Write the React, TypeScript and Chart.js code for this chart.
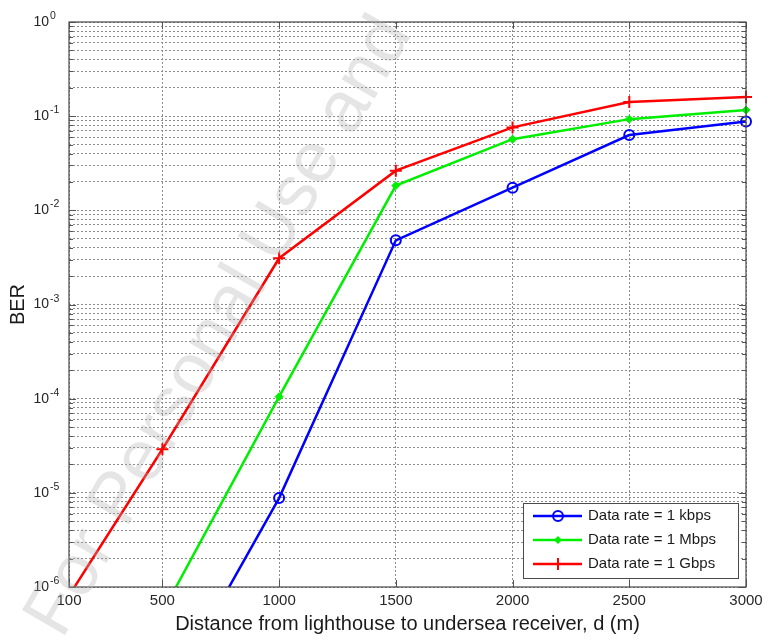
import React, { useEffect, useRef } from "react";
import { Chart, registerables } from "chart.js";

Chart.register(...registerables);

// ---- data ----
const distances = [100, 500, 1000, 1500, 2000, 2500, 3000];
const berKbps = [null, 5.5e-8, 8.8e-6, 4.8e-3, 1.74e-2, 6.3e-2, 8.8e-2];
const berMbps = [null, 5.4e-7, 1.05e-4, 1.83e-2, 5.7e-2, 9.3e-2, 1.16e-1];
const berGbps = [8.1e-7, 2.9e-5, 3.1e-3, 2.64e-2, 7.6e-2, 1.41e-1, 1.6e-1];
const seriesLabels = ["Data rate = 1 kbps", "Data rate = 1 Mbps", "Data rate = 1 Gbps"];
const seriesColors = ["#0000ff", "#00ee00", "#ff0000"];
const xTickValues = [100, 500, 1000, 1500, 2000, 2500, 3000];
const yExponents = [-6, -5, -4, -3, -2, -1, 0];
const xTitle = "Distance from lighthouse to undersea receiver, d (m)";
const yTitle = "BER";
const watermark = "For Personal Use and";

const FONT = "'Liberation Sans', Arial, Helvetica, sans-serif";

function toPoints(vals: (number | null)[]) {
  return distances.map((d, i) => ({ x: d, y: vals[i] }));
}

function drawMarker(ctx: CanvasRenderingContext2D, kind: number, x: number, y: number, color: string) {
  ctx.save();
  ctx.strokeStyle = color;
  ctx.fillStyle = color;
  ctx.lineWidth = 2;
  if (kind === 0) {
    ctx.beginPath();
    ctx.arc(x, y, 5, 0, Math.PI * 2);
    ctx.stroke();
  } else if (kind === 1) {
    ctx.beginPath();
    ctx.moveTo(x, y - 4);
    ctx.lineTo(x + 4, y);
    ctx.lineTo(x, y + 4);
    ctx.lineTo(x - 4, y);
    ctx.closePath();
    ctx.fill();
  } else {
    ctx.beginPath();
    ctx.moveTo(x - 6, y);
    ctx.lineTo(x + 6, y);
    ctx.moveTo(x, y - 6);
    ctx.lineTo(x, y + 6);
    ctx.stroke();
  }
  ctx.restore();
}

export default function App() {
  const ref = useRef<HTMLCanvasElement>(null);

  useEffect(() => {
    const canvas = ref.current;
    if (!canvas) return;

    const overlay = {
      id: "matlabOverlay",
      afterDatasetsDraw(chart: any) {
        const { ctx, chartArea } = chart;
        const { left, right, top, bottom } = chartArea;
        const xs = chart.scales.x;
        const ys = chart.scales.y;
        ctx.save();

        // inner ticks
        ctx.strokeStyle = "#555";
        ctx.lineWidth = 1;
        ctx.beginPath();
        for (const v of xTickValues) {
          const px = Math.round(xs.getPixelForValue(v)) + 0.5;
          ctx.moveTo(px, bottom);
          ctx.lineTo(px, bottom - 7);
          ctx.moveTo(px, top);
          ctx.lineTo(px, top + 7);
        }
        for (const e of yExponents) {
          for (let m = 1; m <= 9; m++) {
            if (e === 0 && m > 1) break;
            const py = Math.round(ys.getPixelForValue(m * Math.pow(10, e))) + 0.5;
            const len = m === 1 ? 7 : 4;
            ctx.moveTo(left, py);
            ctx.lineTo(left + len, py);
            ctx.moveTo(right, py);
            ctx.lineTo(right - len, py);
          }
        }
        ctx.stroke();

        // box
        ctx.strokeStyle = "#4a4a4a";
        ctx.lineWidth = 1.2;
        ctx.strokeRect(left, top, right - left, bottom - top);

        // y tick labels 10^n
        ctx.fillStyle = "#262626";
        for (const e of yExponents) {
          const py = ys.getPixelForValue(Math.pow(10, e));
          ctx.font = `14px ${FONT}`;
          ctx.textAlign = "right";
          ctx.textBaseline = "middle";
          ctx.fillText("10", 49, py);
          ctx.font = `10.5px ${FONT}`;
          ctx.textAlign = "left";
          ctx.textBaseline = "alphabetic";
          ctx.fillText(String(e), 50, py - 3);
        }

        // legend
        const lw = 215;
        const lh = 75;
        const lx = right - 8 - lw;
        const ly = bottom - 9 - lh;
        ctx.fillStyle = "#ffffff";
        ctx.fillRect(lx, ly, lw, lh);
        ctx.strokeStyle = "#4a4a4a";
        ctx.lineWidth = 1;
        ctx.strokeRect(lx + 0.5, ly + 0.5, lw, lh);
        seriesLabels.forEach((label, i) => {
          const ry = ly + 13 + i * 24;
          ctx.strokeStyle = seriesColors[i];
          ctx.lineWidth = 2.5;
          ctx.beginPath();
          ctx.moveTo(lx + 10, ry);
          ctx.lineTo(lx + 59, ry);
          ctx.stroke();
          drawMarker(ctx, i, lx + 35, ry, seriesColors[i]);
          ctx.fillStyle = "#1a1a1a";
          ctx.font = `15px ${FONT}`;
          ctx.textAlign = "left";
          ctx.textBaseline = "middle";
          ctx.fillText(label, lx + 65, ry);
        });

        // watermark
        ctx.translate(62, 640);
        ctx.rotate((-60 * Math.PI) / 180);
        ctx.font = `72px ${FONT}`;
        ctx.textAlign = "left";
        ctx.textBaseline = "alphabetic";
        ctx.fillStyle = "rgba(175,175,175,0.32)";
        ctx.fillText(watermark, 0, 0);
        ctx.restore();
      },
    };

    const chart = new Chart(canvas, {
      type: "line",
      data: {
        datasets: [
          {
            label: seriesLabels[0],
            data: toPoints(berKbps),
            borderColor: seriesColors[0],
            backgroundColor: "rgba(0,0,0,0)",
            borderWidth: 2.5,
            pointStyle: "circle",
            pointRadius: 5,
            pointBorderWidth: 2,
            pointBorderColor: seriesColors[0],
            pointBackgroundColor: "rgba(0,0,0,0)",
            clip: { left: 8, right: 8, top: 8, bottom: 0 },
          },
          {
            label: seriesLabels[1],
            data: toPoints(berMbps),
            borderColor: seriesColors[1],
            backgroundColor: seriesColors[1],
            borderWidth: 2.5,
            pointStyle: "rectRot",
            pointRadius: 4,
            pointBorderWidth: 1,
            pointBorderColor: seriesColors[1],
            pointBackgroundColor: seriesColors[1],
            clip: { left: 8, right: 8, top: 8, bottom: 0 },
          },
          {
            label: seriesLabels[2],
            data: toPoints(berGbps),
            borderColor: seriesColors[2],
            backgroundColor: seriesColors[2],
            borderWidth: 2.5,
            pointStyle: "cross",
            pointRadius: 6,
            pointBorderWidth: 2,
            pointBorderColor: seriesColors[2],
            clip: { left: 8, right: 8, top: 8, bottom: 0 },
          },
        ],
      } as any,
      options: {
        responsive: false,
        animation: false,
        devicePixelRatio: 1,
        layout: { padding: { top: 22, right: 22, left: 0, bottom: 0 } },
        plugins: { legend: { display: false }, tooltip: { enabled: false } },
        elements: { line: { tension: 0 } },
        scales: {
          x: {
            type: "linear",
            min: 100,
            max: 3000,
            afterBuildTicks: (scale: any) => {
              scale.ticks = xTickValues.map((v) => ({ value: v }));
            },
            afterFit: (scale: any) => {
              scale.height = 53;
            },
            grid: { color: "#8c8c8c", lineWidth: 1, drawTicks: false },
            border: { display: false, dash: [2, 2] },
            ticks: {
              font: { family: FONT, size: 15 },
              color: "#262626",
              padding: 5,
              maxRotation: 0,
              autoSkip: false,
              callback: (v: any) => String(v),
            },
            title: {
              display: true,
              text: xTitle,
              font: { family: FONT, size: 20 },
              color: "#1a1a1a",
              padding: { top: 0, bottom: 4 },
            },
          },
          y: {
            type: "logarithmic",
            min: 1e-6,
            max: 1,
            afterBuildTicks: (scale: any) => {
              const t: { value: number }[] = [];
              for (const e of yExponents) {
                for (let m = 1; m <= 9; m++) {
                  if (e === 0 && m > 1) break;
                  t.push({ value: m * Math.pow(10, e) });
                }
              }
              scale.ticks = t;
            },
            afterFit: (scale: any) => {
              scale.width = 69;
            },
            grid: { color: "#8c8c8c", lineWidth: 1, drawTicks: false },
            border: { display: false, dash: [2, 2] },
            ticks: { display: false },
            title: {
              display: true,
              text: yTitle,
              font: { family: FONT, size: 20 },
              color: "#1a1a1a",
              padding: { top: 6, bottom: 0 },
            },
          },
        },
      } as any,
      plugins: [overlay],
    });

    return () => chart.destroy();
  }, []);

  return (
    <div style={{ position: "absolute", left: 0, top: 0, width: 768, height: 640, background: "#fff" }}>
      <canvas ref={ref} width={768} height={640} style={{ display: "block", width: 768, height: 640 }} />
    </div>
  );
}
